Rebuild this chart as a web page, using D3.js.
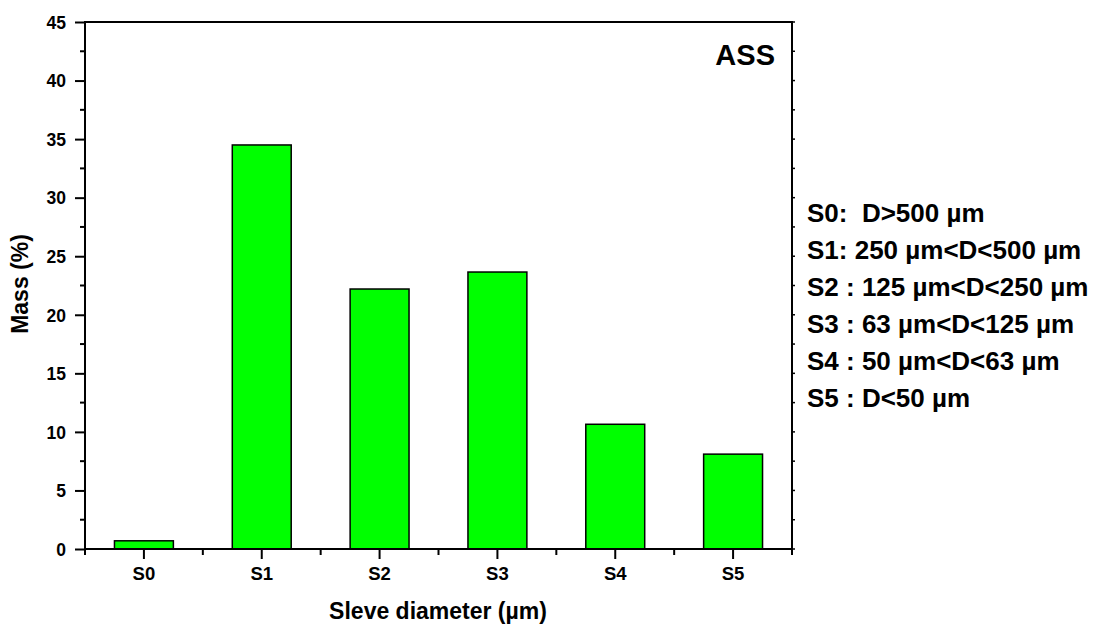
<!DOCTYPE html>
<html><head><meta charset="utf-8">
<script src="https://cdn.jsdelivr.net/npm/d3@7"></script>
<style>body{margin:0;background:#fff}svg{display:block}text{font-family:"Liberation Sans",Arial,sans-serif;font-weight:bold;fill:#000}</style>
</head><body><svg id="c" width="1093" height="627"></svg>
<script>
const categories = ["S0","S1","S2","S3","S4","S5"];
const massValues = [0.7, 34.5, 22.2, 23.65, 10.65, 8.1];
const yTicks = [0,5,10,15,20,25,30,35,40,45];
const yMinorTicks = [2.5,7.5,12.5,17.5,22.5,27.5,32.5,37.5,42.5];
const legendLines = ["S0:  D>500 µm","S1: 250 µm<D<500 µm","S2 : 125 µm<D<250 µm","S3 : 63 µm<D<125 µm","S4 : 50 µm<D<63 µm","S5 : D<50 µm"];
const sampleLabel = "ASS";
const xTitle = "Sleve diameter (µm)";
const yTitle = "Mass (%)";

const L=85,R=792,T=22,B=549;
const svg=d3.select("#c");
const x=d3.scaleBand().domain(categories).range([L,R]).paddingInner(0.5).paddingOuter(0.25);
const y=d3.scaleLinear().domain([0,45]).range([B,T]);

// bars
svg.append("g").selectAll("rect").data(massValues).join("rect")
  .attr("x",(d,i)=>x(categories[i])).attr("width",x.bandwidth())
  .attr("y",d=>y(d)).attr("height",d=>B-y(d))
  .attr("fill","#00ff00").attr("stroke","#000").attr("stroke-width",1.5);

// left axis
const gl=svg.append("g").attr("transform",`translate(${L},0)`)
  .call(d3.axisLeft(y).tickValues(yTicks).tickSize(10).tickPadding(9).tickFormat(d3.format("d")));
gl.selectAll(".tick text").style("font-size","17.5px").attr("dy","0.36em");
gl.append("g").selectAll("line").data(yMinorTicks).join("line")
  .attr("x1",-5).attr("x2",0).attr("y1",d=>y(d)).attr("y2",d=>y(d)).attr("stroke","#000").attr("stroke-width",2);

// right axis ticks
svg.append("g").selectAll("line").data(yTicks.concat(yMinorTicks)).join("line")
  .attr("x1",R).attr("x2",R+3).attr("y1",d=>y(d)).attr("y2",d=>y(d)).attr("stroke","#000").attr("stroke-width",1.5);

// bottom axis
const gb=svg.append("g").attr("transform",`translate(0,${B})`)
  .call(d3.axisBottom(x).tickSize(10).tickPadding(8).tickSizeOuter(0));
gb.selectAll(".tick text").style("font-size","18.5px");
const bounds=categories.map(c=>x(c)-x.step()*x.paddingInner()/2).concat([R]);
gb.append("g").selectAll("line").data(bounds).join("line")
  .attr("x1",d=>d).attr("x2",d=>d).attr("y1",0).attr("y2",6).attr("stroke","#000").attr("stroke-width",2);

[gl,gb].forEach(g=>{g.select(".domain").remove();g.selectAll(".tick line").attr("stroke-width",2);});

// frame
svg.append("rect").attr("x",L).attr("y",T).attr("width",R-L).attr("height",B-T)
  .attr("fill","none").attr("stroke","#000").attr("stroke-width",2);

// titles
svg.append("text").attr("x",438).attr("y",619).attr("text-anchor","middle").style("font-size","23px").text(xTitle);
svg.append("text").attr("transform","translate(28,284) rotate(-90)").attr("text-anchor","middle").style("font-size","23px").text(yTitle);
svg.append("text").attr("x",775).attr("y",65).attr("text-anchor","end").style("font-size","29px").text(sampleLabel);

// legend
svg.append("g").selectAll("text").data(legendLines).join("text")
  .attr("x",807).attr("y",(d,i)=>222+i*37).style("font-size","26px").attr("xml:space","preserve").style("white-space","pre").text(d=>d);
</script></body></html>
